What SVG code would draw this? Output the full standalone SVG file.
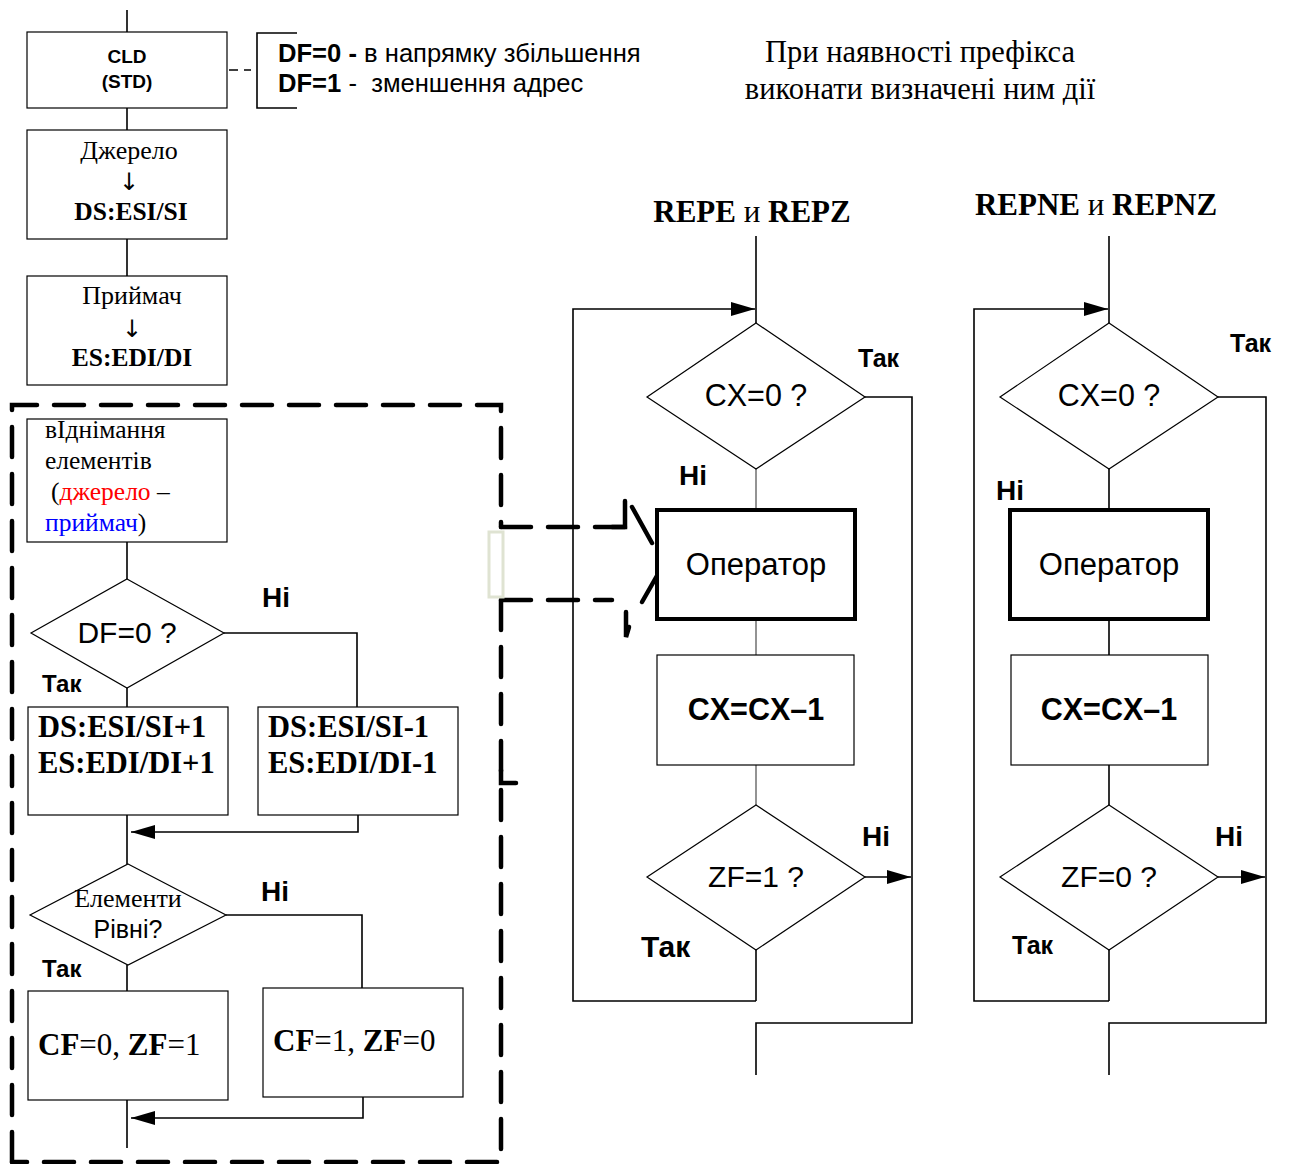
<svg xmlns="http://www.w3.org/2000/svg" width="1291" height="1164" viewBox="0 0 1291 1164">
<defs>
<marker id="ahb" viewBox="0 0 10 10" refX="10" refY="5" markerWidth="24" markerHeight="14" markerUnits="userSpaceOnUse" orient="auto" preserveAspectRatio="none"><path d="M0,0 L10,5 L0,10 Z" fill="#000"/></marker>
<style>
.box{fill:#fff;stroke:#000;stroke-width:1.2}
.thick{fill:#fff;stroke:#000;stroke-width:4}
.ln{fill:none;stroke:#000;stroke-width:1.6}
.gl{fill:none;stroke:#666;stroke-width:1.4}
.dash{fill:none;stroke:#000;stroke-width:4.5;stroke-dasharray:30,17;stroke-linecap:round}
.sol{fill:none;stroke:#000;stroke-width:4.5;stroke-linecap:round}
.a{font-family:"Liberation Sans",Arial,sans-serif}
.t{font-family:"Liberation Serif","Times New Roman",serif}
.arr{font-family:"DejaVu Sans",sans-serif;fill:#000}
.b{font-weight:bold}
</style>
</defs>
<g id="connectors">
<path class="ln" d="M127,10 V32 M127,108 V130 M127,239 V276 M127,542 V579"/>
<path class="ln" d="M229,70 H238 M244,70 H251"/>
<path class="ln" d="M297,33 H257 V108 H297"/>
<path class="ln" d="M224,633 H357 V707 M127,688 V707 M127,815 V864"/>
<path class="ln" d="M358,815 V832 H131" marker-end="url(#ahb)"/>
<path class="ln" d="M226,915 H362 V988 M127,965 V991 M127,1100 V1148"/>
<path class="ln" d="M363,1097 V1118 H131" marker-end="url(#ahb)"/>
<path class="ln" d="M756,236 V323"/>
<path class="ln" d="M756,1001 H573 V309 H755" marker-end="url(#ahb)"/>
<path class="ln" d="M865,397 H912 V1023 H756 V1075"/>
<path class="gl" d="M756,469 V509 M756,619 V655 M756,765 V805"/>
<path class="ln" d="M756,950 V1001"/>
<path class="ln" d="M865,877 H911" marker-end="url(#ahb)"/>
<path class="ln" d="M1109,236 V323"/>
<path class="ln" d="M1109,1001 H974 V309 H1108" marker-end="url(#ahb)"/>
<path class="ln" d="M1218,397 H1266 V1023 H1109 V1075"/>
<path class="ln" d="M1109,469 V509 M1109,619 V655 M1109,765 V805 M1109,950 V1001"/>
<path class="ln" d="M1218,877 H1265" marker-end="url(#ahb)"/>
</g>
<g id="dashed-region">
<path class="dash" d="M12,1162 V405 H501 V527"/>
<path class="dash" d="M501,600 V782"/>
<path class="dash" d="M501,790 V1162 H12"/>
<path class="sol" d="M501,770 V783 H516"/>
<path class="dash" d="M501,527 H625"/>
<path class="sol" d="M612,527 H625 V501"/>
<path class="sol" d="M632,507 L652,543"/>
<path class="sol" d="M662,567 L642,602"/>
<path class="dash" d="M501,600 H612"/>
<path class="sol" d="M626,612 V637 L629,627"/>
<rect x="489" y="532" width="14" height="65" fill="none" stroke="#dfe3d2" stroke-width="3"/>
</g>
<g id="cld"><rect class="box" x="27" y="32" width="200" height="76"/>
<text class="a b" x="127" y="63" font-size="19" text-anchor="middle">CLD</text>
<text class="a b" x="127" y="88" font-size="19" text-anchor="middle">(STD)</text></g>
<g id="df-note"><text class="a" x="278" y="62" font-size="25.6" xml:space="preserve"><tspan class="b">DF=0 -</tspan> в напрямку збільшення</text>
<text class="a" x="278" y="92" font-size="25.6" xml:space="preserve"><tspan class="b">DF=1</tspan> -  зменшення адрес</text></g>
<g id="prefix-note"><text class="t" x="920" y="62" font-size="30.5" text-anchor="middle">При наявності префікса</text>
<text class="t" x="920" y="99" font-size="30.5" text-anchor="middle">виконати визначені ним дії</text></g>
<g id="source"><rect class="box" x="27" y="130" width="200" height="109"/>
<text class="t" x="129" y="159" font-size="26" text-anchor="middle">Джерело</text>
<text class="arr" x="129" y="190" font-size="24" text-anchor="middle">↓</text>
<text class="t b" x="131" y="220" font-size="25.5" text-anchor="middle">DS:ESI/SI</text></g>
<g id="dest"><rect class="box" x="27" y="276" width="200" height="109"/>
<text class="t" x="132" y="304" font-size="26" text-anchor="middle">Приймач</text>
<text class="arr" x="132" y="337" font-size="24" text-anchor="middle">↓</text>
<text class="t b" x="132" y="366" font-size="25.5" text-anchor="middle">ES:EDI/DI</text></g>
<g id="subtract"><rect class="box" x="27" y="419" width="200" height="123"/>
<text class="t" x="45" y="438" font-size="25.5">вІднімання</text>
<text class="t" x="45" y="469" font-size="25.5">елементів</text>
<text class="t" x="51" y="500" font-size="25.5">(<tspan fill="#f00">джерело</tspan> –</text>
<text class="t" x="45" y="531" font-size="25.5"><tspan fill="#00f">приймач</tspan>)</text></g>
<g id="df-decision"><polygon class="box" points="127,579 224,633 127,688 31,633"/>
<text class="a" x="127" y="643" font-size="30" text-anchor="middle">DF=0 ?</text>
<text class="a b" x="262" y="607" font-size="28">Ні</text>
<text class="a b" x="42" y="692" font-size="24">Так</text></g>
<g id="inc"><rect class="box" x="28" y="707" width="200" height="108"/>
<text class="t b" x="38" y="737" font-size="30.5">DS:ESI/SI+1</text>
<text class="t b" x="38" y="773" font-size="30.5">ES:EDI/DI+1</text></g>
<g id="dec"><rect class="box" x="258" y="707" width="200" height="108"/>
<text class="t b" x="268" y="737" font-size="30.5">DS:ESI/SI-1</text>
<text class="t b" x="268" y="773" font-size="30.5">ES:EDI/DI-1</text></g>
<g id="eq-decision"><polygon class="box" points="128,864 226,915 128,965 30,915"/>
<text class="t" x="128" y="907" font-size="26" text-anchor="middle">Елементи</text>
<text class="a" x="128" y="938" font-size="25" text-anchor="middle">Рівні?</text>
<text class="a b" x="261" y="901" font-size="28">Ні</text>
<text class="a b" x="42" y="977" font-size="24">Так</text></g>
<g id="eq-yes"><rect class="box" x="28" y="991" width="200" height="109"/>
<text class="t" x="38" y="1055" font-size="31"><tspan class="b">CF</tspan>=0, <tspan class="b">ZF</tspan>=1</text></g>
<g id="eq-no"><rect class="box" x="263" y="988" width="200" height="109"/>
<text class="t" x="273" y="1051" font-size="31"><tspan class="b">CF</tspan>=1, <tspan class="b">ZF</tspan>=0</text></g>
<g id="repe-title"><text class="t b" x="752" y="222" font-size="31" text-anchor="middle">REPE <tspan font-weight="normal">и</tspan> REPZ</text></g>
<g id="repe-cx0"><polygon class="box" points="756,323 865,397 756,469 647,397"/>
<text class="a" x="756" y="406" font-size="30.5" text-anchor="middle">CX=0 ?</text>
<text class="a b" x="858" y="367" font-size="25">Так</text>
<text class="a b" x="679" y="485" font-size="28">Ні</text></g>
<g id="repe-op"><rect class="thick" x="657" y="510" width="198" height="109"/>
<text class="a" x="756" y="575" font-size="31" text-anchor="middle">Оператор</text></g>
<g id="repe-dec"><rect class="box" x="657" y="655" width="197" height="110"/>
<text class="a b" x="756" y="720" font-size="30.5" text-anchor="middle">CX=CX–1</text></g>
<g id="repe-zf"><polygon class="box" points="756,805 865,877 756,950 647,877"/>
<text class="a" x="756" y="887" font-size="30" text-anchor="middle">ZF=1 ?</text>
<text class="a b" x="862" y="846" font-size="28">Ні</text>
<text class="a b" x="641" y="957" font-size="30">Так</text></g>
<g id="repne-title"><text class="t b" x="1096" y="215" font-size="31" text-anchor="middle">REPNE <tspan font-weight="normal">и</tspan> REPNZ</text></g>
<g id="repne-cx0"><polygon class="box" points="1109,323 1218,397 1109,469 1000,397"/>
<text class="a" x="1109" y="406" font-size="30.5" text-anchor="middle">CX=0 ?</text>
<text class="a b" x="1230" y="352" font-size="25">Так</text>
<text class="a b" x="996" y="500" font-size="28">Ні</text></g>
<g id="repne-op"><rect class="thick" x="1010" y="510" width="198" height="109"/>
<text class="a" x="1109" y="575" font-size="31" text-anchor="middle">Оператор</text></g>
<g id="repne-dec"><rect class="box" x="1011" y="655" width="197" height="110"/>
<text class="a b" x="1109" y="720" font-size="30.5" text-anchor="middle">CX=CX–1</text></g>
<g id="repne-zf"><polygon class="box" points="1109,805 1218,877 1109,950 1000,877"/>
<text class="a" x="1109" y="887" font-size="30" text-anchor="middle">ZF=0 ?</text>
<text class="a b" x="1215" y="846" font-size="28">Ні</text>
<text class="a b" x="1012" y="954" font-size="25">Так</text></g>
</svg>
